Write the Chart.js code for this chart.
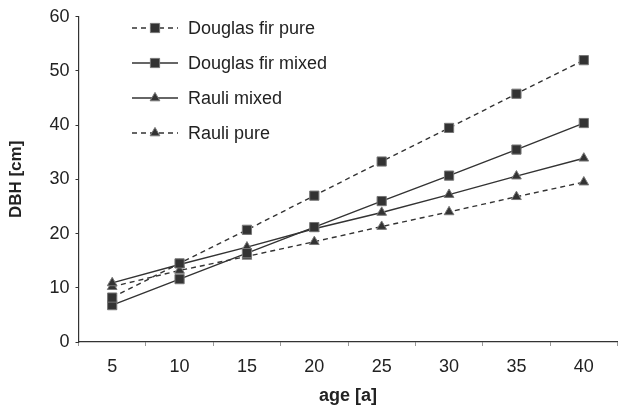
<!DOCTYPE html>
<html>
<head>
<meta charset="utf-8">
<script src="https://cdn.jsdelivr.net/npm/chart.js@4/dist/chart.umd.min.js"></script>
<style>
  html, body { margin: 0; padding: 0; background: #fff; overflow: hidden; }
  #wrap { width: 625px; height: 407px; }
</style>
</head>
<body>
<div id="wrap"><canvas id="dbhChart"></canvas></div>
<script>
// Data
const ages = ['5', '10', '15', '20', '25', '30', '35', '40'];
const douglasPure = [8.2, 14.5, 20.7, 27.0, 33.3, 39.5, 45.8, 52.0];
const douglasMixed = [6.8, 11.6, 16.4, 21.2, 26.0, 30.7, 35.5, 40.4];
const rauliMixed = [10.9, 14.3, 17.5, 20.9, 23.9, 27.2, 30.6, 33.9];
const rauliPure = [10.2, 13.2, 15.8, 18.5, 21.3, 24.0, 26.8, 29.5];
const yTicks = [0, 10, 20, 30, 40, 50, 60];

const FONT = "'Liberation Sans', Arial, sans-serif";
const INK = '#333333';

function series(label, data, shape, dashed) {
    return {
        label: label,
        data: data,
        borderColor: INK,
        borderWidth: 1.4,
        borderDash: dashed ? [5, 4] : [],
        backgroundColor: INK,
        pointStyle: shape,
        pointRadius: shape === 'rect' ? 6.5 : 5.6,
        pointHoverRadius: 6,
        pointBackgroundColor: '#333333',
        pointBorderColor: '#777777',
        pointBorderWidth: 1,
        tension: 0,
        fill: false
    };
}

// Legend drawn by hand: line sample with the marker in the middle
const lineLegend = {
    id: 'lineLegend',
    afterDraw(chart) {
        const ctx = chart.ctx;
        const rows = [28, 63, 98, 133];
        chart.data.datasets.forEach((ds, i) => {
            const y = rows[i];
            ctx.save();
            ctx.strokeStyle = INK;
            ctx.lineWidth = 1.4;
            ctx.setLineDash(ds.borderDash);
            ctx.beginPath();
            ctx.moveTo(132, y);
            ctx.lineTo(178, y);
            ctx.stroke();
            ctx.setLineDash([]);
            ctx.lineWidth = 1;
            ctx.fillStyle = ds.pointBackgroundColor;
            ctx.strokeStyle = ds.pointBorderColor;
            Chart.helpers.drawPoint(ctx, {
                pointStyle: ds.pointStyle,
                radius: ds.pointRadius,
                borderWidth: 1
            }, 155, y);
            ctx.fillStyle = '#222';
            ctx.font = '18px ' + FONT;
            ctx.textBaseline = 'middle';
            ctx.fillText(ds.label, 188, y + 1);
            ctx.restore();
        });
    }
};

const dbhChart = new Chart(document.getElementById('dbhChart'), {
    type: 'line',
    data: {
        labels: ages,
        datasets: [
            series('Douglas fir pure', douglasPure, 'rect', true),
            series('Douglas fir mixed', douglasMixed, 'rect', false),
            series('Rauli mixed', rauliMixed, 'triangle', false),
            series('Rauli pure', rauliPure, 'triangle', true)
        ]
    },
    options: {
        responsive: true,
        maintainAspectRatio: false,
        animation: false,
        layout: { padding: { top: 16, right: 0, left: 0, bottom: 0 } },
        plugins: {
            legend: { display: false },
            tooltip: { enabled: false }
        },
        scales: {
            x: {
                type: 'category',
                offset: true,
                afterFit: (scale) => { scale.height = 65; },
                grid: {
                    offset: true,
                    drawOnChartArea: false,
                    drawTicks: true,
                    tickLength: 4,
                    color: '#999'
                },
                border: { color: INK, width: 1.2 },
                ticks: {
                    color: '#222',
                    padding: 10,
                    font: { family: FONT, size: 18 }
                },
                title: {
                    display: true,
                    text: 'age [a]',
                    color: '#222',
                    padding: { top: 0, bottom: 0 },
                    font: { family: FONT, size: 18, weight: 'bold' }
                }
            },
            y: {
                min: 0,
                max: 60,
                afterFit: (scale) => { scale.width = 78.5; },
                afterBuildTicks: (scale) => {
                    scale.ticks = yTicks.map(v => ({ value: v }));
                },
                grid: {
                    drawOnChartArea: false,
                    drawTicks: true,
                    tickLength: 3,
                    color: INK
                },
                border: { color: INK, width: 1.2 },
                ticks: {
                    color: '#222',
                    padding: 6,
                    font: { family: FONT, size: 18 }
                },
                title: {
                    display: true,
                    text: 'DBH [cm]',
                    color: '#222',
                    padding: { top: 6, bottom: 0 },
                    font: { family: FONT, size: 17, weight: 'bold' }
                }
            }
        }
    },
    plugins: [lineLegend]
});
</script>
</body>
</html>
